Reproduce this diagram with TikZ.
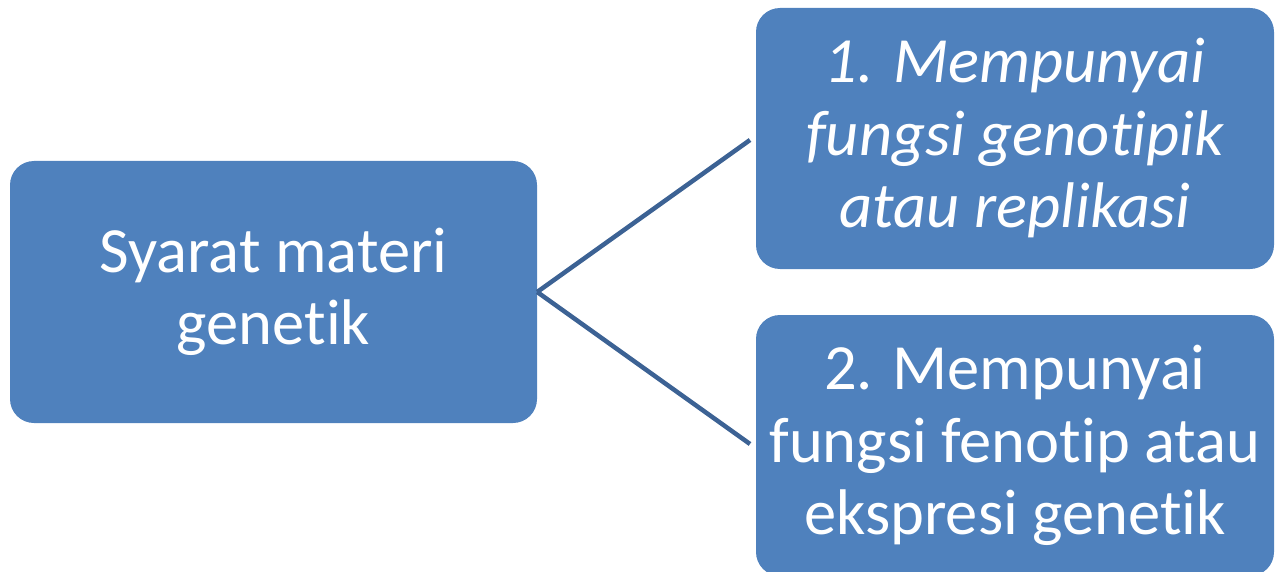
\documentclass[tikz,border=0pt]{standalone}
\usepackage{fontspec}
\setmainfont[Ligatures=NoCommon]{Carlito}
\usepackage{tikz}
\usetikzlibrary{
	positioning,
	calc
}
\definecolor{GeneBlue}{RGB}{79,129,189}
\definecolor{GeneLine}{RGB}{60,98,148}

\tikzset{
	genebox/.style={
		rectangle,
		rounded corners=24pt,
		fill=GeneBlue,
		text=white,
		align=center,
		inner sep=0pt,
		font=\fontsize{64.5}{72.5}\selectfont
	},
	geneline/.style={
		GeneLine,
		line width=4.5pt
	}
}

\begin{document}
\begin{tikzpicture}[x=1pt,y=1pt]
				
				\useasboundingbox (0,0) rectangle (1276,-572);
				
				% Boxes
				\node[
				genebox,
				minimum width=527pt,
				minimum height=262pt
				] (syarat) at (273.5,-292)
				{Syarat materi\\genetik};
				
				\node[
				genebox,
				minimum width=518pt,
				minimum height=261pt,
				font=\fontsize{64.5}{72.5}\selectfont\itshape
				] (replikasi) at (1015,-138.5)
				{1. Mempunyai\\fungsi genotipik\\atau replikasi};
				
				\node[
				genebox,
				minimum width=518pt,
				minimum height=261pt
				] (ekspresi) at (1015,-445.5)
				{2. Mempunyai\\fungsi fenotip atau\\ekspresi genetik};
				
				% Connections
				\coordinate (ujungatas) at (750,-140);
				\coordinate (ujungbawah) at (750,-444);
				
				\draw[geneline]
				(syarat.east) -- (ujungatas);
				
				\draw[geneline]
				(syarat.east) -- (ujungbawah);
				
			\end{tikzpicture}
\end{document}
